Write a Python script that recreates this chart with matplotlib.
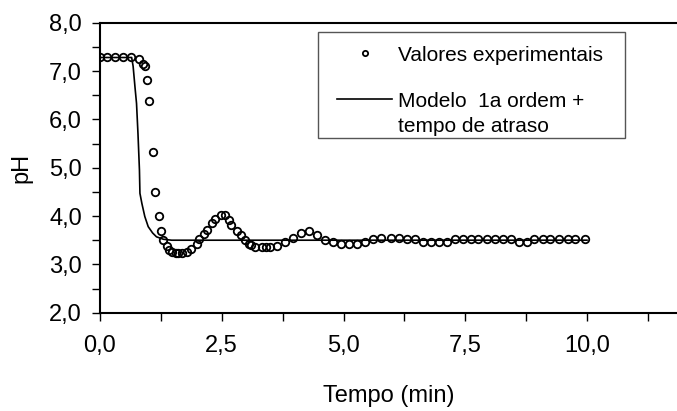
import matplotlib
matplotlib.use("Agg")
import matplotlib.pyplot as plt
from matplotlib.ticker import MultipleLocator, FuncFormatter
from matplotlib.patches import Rectangle

# Experimental data (time in min, pH)
t_exp = [0.00, 0.14, 0.31, 0.48, 0.64, 0.80, 0.89, 0.92, 0.97, 1.01, 1.08, 1.13,
         1.21, 1.25, 1.29, 1.37, 1.42, 1.47, 1.56, 1.61, 1.69, 1.78, 1.86, 1.99,
         2.04, 2.14, 2.19, 2.31, 2.36, 2.48, 2.57, 2.65, 2.70, 2.81, 2.90, 2.98,
         3.05, 3.10, 3.18, 3.32, 3.41, 3.49, 3.64, 3.80, 3.96, 4.12, 4.29, 4.46,
         4.62, 4.78, 4.94, 5.11, 5.28, 5.44, 5.60, 5.77, 5.98, 6.14, 6.30, 6.47,
         6.64, 6.80, 6.97, 7.12, 7.29, 7.45, 7.61, 7.77, 7.94, 8.11, 8.27, 8.44,
         8.60, 8.76, 8.92, 9.09, 9.25, 9.43, 9.60, 9.75, 9.96]
ph_exp = [7.28, 7.28, 7.28, 7.28, 7.28, 7.24, 7.14, 7.10, 6.81, 6.37, 5.33, 4.50,
          4.01, 3.68, 3.50, 3.39, 3.30, 3.26, 3.23, 3.23, 3.23, 3.26, 3.31, 3.42,
          3.52, 3.62, 3.71, 3.85, 3.93, 4.02, 4.02, 3.92, 3.81, 3.68, 3.60, 3.50,
          3.43, 3.40, 3.35, 3.35, 3.35, 3.35, 3.39, 3.47, 3.55, 3.64, 3.68, 3.60,
          3.50, 3.46, 3.42, 3.42, 3.42, 3.47, 3.52, 3.55, 3.55, 3.55, 3.52, 3.52,
          3.47, 3.47, 3.47, 3.47, 3.52, 3.52, 3.52, 3.52, 3.52, 3.52, 3.52, 3.52,
          3.47, 3.47, 3.52, 3.52, 3.52, 3.52, 3.52, 3.52, 3.52]

# Model: first order + dead time
t_mod = [0.00, 0.65, 0.68, 0.72, 0.75, 0.78, 0.81, 0.82, 0.86, 0.92, 0.99,
         1.08, 1.16, 1.30, 1.47, 10.0]
ph_mod = [7.28, 7.28, 7.10, 6.65, 6.33, 5.70, 4.95, 4.47, 4.26, 3.99, 3.78,
          3.65, 3.57, 3.52, 3.50, 3.50]

plt.rcParams['font.family'] = ['Liberation Sans', 'DejaVu Sans']

W, H = 677, 411
X0, X1 = 100, 677          # axes left / right (px)
YT, YB = 22.7, 312.7       # axes top / bottom (px)

fig = plt.figure(figsize=(W/100, H/100), dpi=100)
ax = fig.add_axes([X0/W, 1 - YB/H, (X1 - X0)/W, (YB - YT)/H])

def ax_x(px):
    return (px - X0) / (X1 - X0)

def ax_y(py):
    return 1 - (py - YT) / (YB - YT)

ax.plot(t_exp, ph_exp, linestyle='none', marker='o', markersize=5.4,
        markerfacecolor='none', markeredgecolor='black', markeredgewidth=1.3,
        label='Valores experimentais', zorder=3)
ax.plot(t_mod, ph_mod, color='black', linewidth=1.2,
        label='Modelo  1a ordem +\ntempo de atraso', zorder=2)

ax.set_xlim(0, (X1 - X0)/48.7)
ax.set_ylim(2.0, 8.0)

ax.xaxis.set_major_locator(MultipleLocator(2.5))
ax.xaxis.set_minor_locator(MultipleLocator(1.25))
ax.yaxis.set_major_locator(MultipleLocator(1.0))
ax.yaxis.set_minor_locator(MultipleLocator(0.5))
fmt = FuncFormatter(lambda v, p: f"{v:.1f}".replace('.', ','))
ax.xaxis.set_major_formatter(fmt)
ax.yaxis.set_major_formatter(fmt)

ax.tick_params(which='both', direction='out', length=6, width=1.0,
               labelsize=17, color='black')
ax.tick_params(axis='x', pad=10)
ax.tick_params(axis='y', pad=7)
ax.spines['right'].set_visible(False)
for s in ['left', 'bottom', 'top']:
    ax.spines[s].set_linewidth(1.5)

ax.set_xlabel('Tempo (min)', fontsize=17, labelpad=20)
ax.set_ylabel('pH', fontsize=17, labelpad=12)

# legend (frame drawn separately so padding matches)
leg = ax.legend(loc='upper left', bbox_to_anchor=(ax_x(337), ax_y(46)),
                fontsize=15, frameon=False, markerscale=0.7,
                handlelength=2.65, handletextpad=0.3, borderpad=0,
                labelspacing=1.3, borderaxespad=0)
for hp in leg._legend_handle_box.get_children()[0].get_children():
    hp.align = 'top'
for txt in leg.get_texts():
    txt.set_linespacing(1.4)
ax.add_patch(Rectangle((ax_x(318), ax_y(138)), ax_x(625) - ax_x(318),
                       ax_y(32.3) - ax_y(138), transform=ax.transAxes,
                       facecolor='none', edgecolor='#555555', linewidth=1.0,
                       zorder=4))

fig.savefig('out.png', dpi=100)
